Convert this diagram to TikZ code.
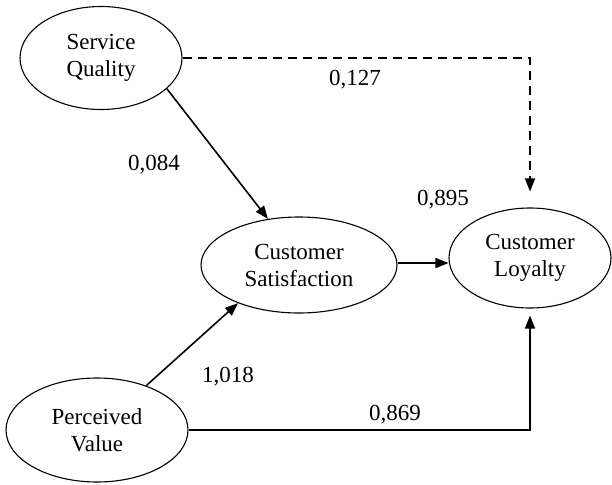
\documentclass[tikz,border=0pt]{standalone}
\usepackage{fontspec}
\setmainfont{Liberation Serif}
\usetikzlibrary{arrows.meta,shapes.geometric}
\begin{document}
\begin{tikzpicture}[x=1pt,y=-1pt,
  construct/.style={ellipse,draw,line width=1.1pt,align=center,inner sep=0pt,
    font=\fontsize{23}{27}\selectfont},
  num/.style={font=\fontsize{23}{27}\selectfont,inner sep=0pt},
  path/.style={line width=1.6pt,-{Triangle[length=13pt,width=10pt]}}]
\useasboundingbox (0,0) rectangle (612,484);
\node[construct,minimum width=162pt,minimum height=103pt] (SQ) at (101,58) {Service\\Quality};
\node[construct,minimum width=196pt,minimum height=96pt] (CS) at (299,265) {Customer\\Satisfaction};
\node[construct,minimum width=162pt,minimum height=100pt] (CL) at (530,258) {Customer\\Loyalty};
\node[construct,minimum width=182pt,minimum height=104pt] (PV) at (97,430) {Perceived\\Value};
\draw[path,dashed,dash pattern=on 9pt off 6pt,shorten >=16pt] (SQ.east) -| (CL.north);
\draw[path] (SQ.-25.6) -- (CS.124.6);
\draw[path] (CS.east |- 0,263) -- (CL.west |- 0,263);
\draw[path] (PV.42.6) -- (CS.212);
\draw[path,shorten >=7pt] (PV.east) -| (CL.south);
\node[num] (l1) at (355,80) {0,127};
\node[num] (l2) at (154,165) {0,084};
\node[num] (l3) at (443,200) {0,895};
\node[num] (l4) at (228,377) {1,018};
\node[num] (l5) at (395,415) {0,869};
\end{tikzpicture}
\end{document}
